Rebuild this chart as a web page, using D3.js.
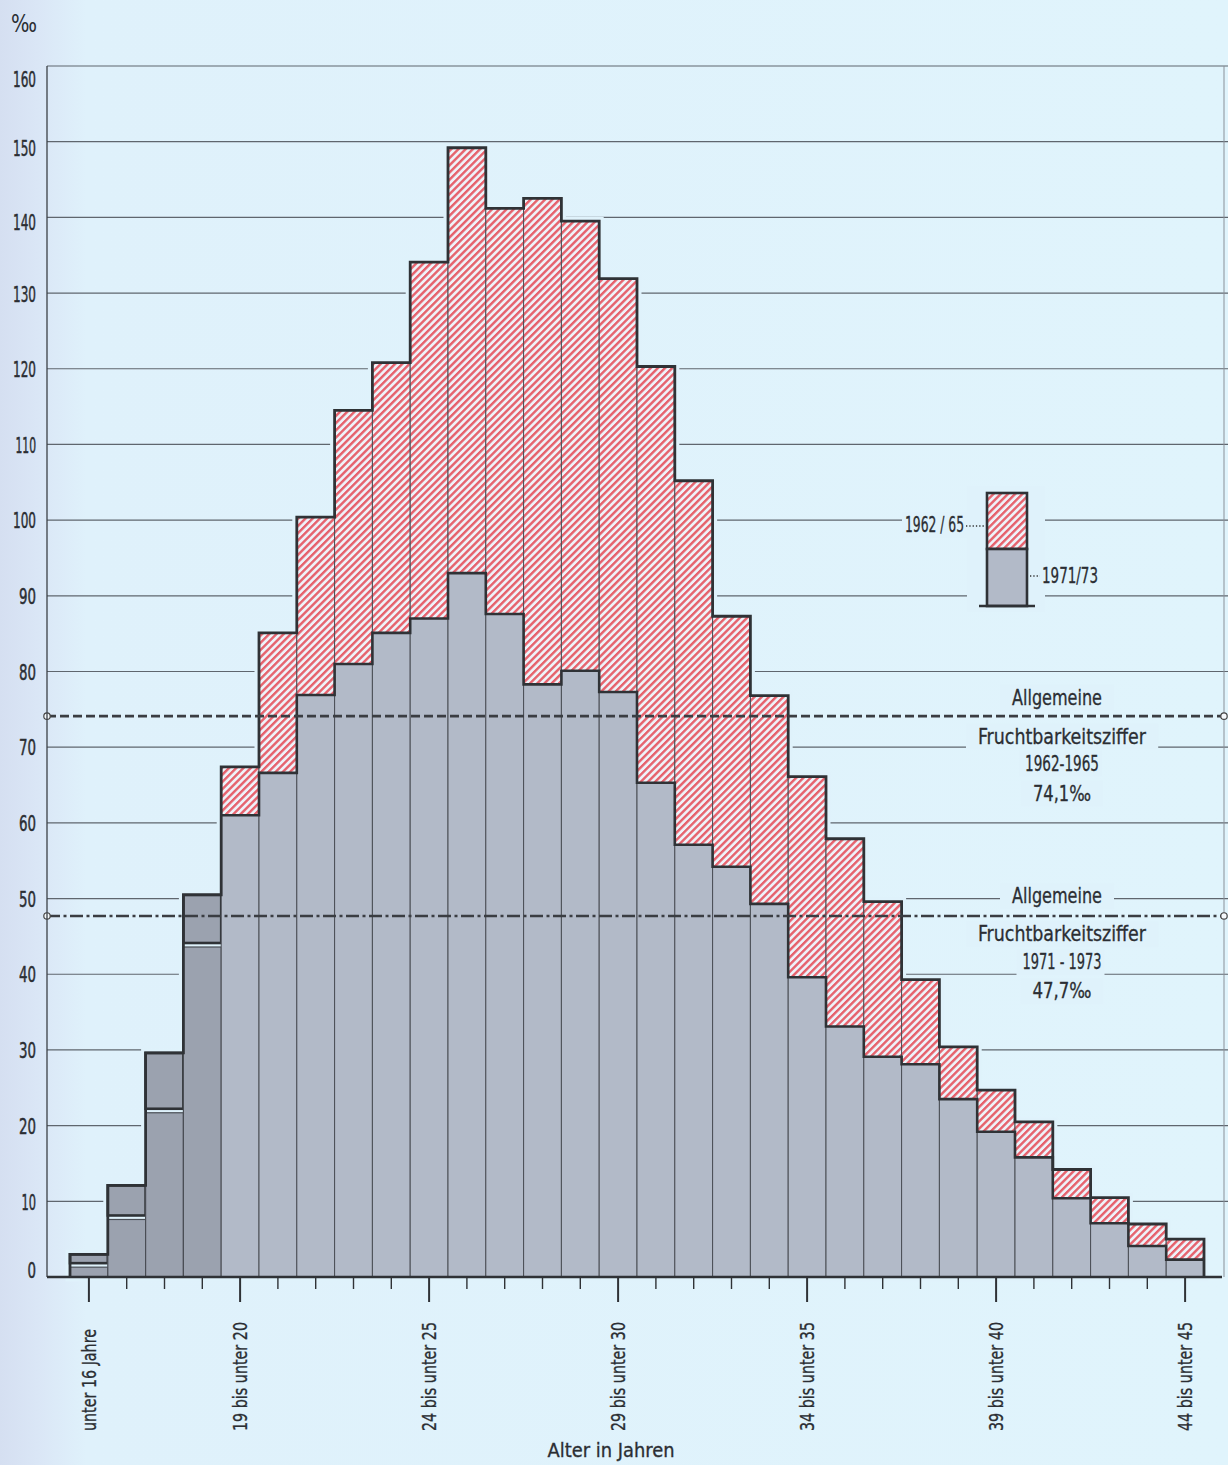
<!DOCTYPE html>
<html><head><meta charset="utf-8">
<script src="https://cdn.jsdelivr.net/npm/d3@7"></script>
<style>body{margin:0;background:#dff2fb} svg{display:block}</style>
</head><body>
<svg id="c" width="1228" height="1465"></svg>
<script>
// ---------- DATA ----------
const categories = ["unter 16 Jahre","16 bis unter 17","17 bis unter 18","18 bis unter 19","19 bis unter 20",
  "20 bis unter 21","21 bis unter 22","22 bis unter 23","23 bis unter 24","24 bis unter 25",
  "25 bis unter 26","26 bis unter 27","27 bis unter 28","28 bis unter 29","29 bis unter 30",
  "30 bis unter 31","31 bis unter 32","32 bis unter 33","33 bis unter 34","34 bis unter 35",
  "35 bis unter 36","36 bis unter 37","37 bis unter 38","38 bis unter 39","39 bis unter 40",
  "40 bis unter 41","41 bis unter 42","42 bis unter 43","43 bis unter 44","44 bis unter 45"];
const rate1962_65 = [1.3, 7.6, 21.7, 43.6, 67.4, 85.1, 100.4, 114.5, 120.8, 134.1,
  149.2, 141.2, 142.5, 139.5, 131.9, 120.3, 105.2, 87.3, 76.8, 66.1,
  57.9, 49.6, 39.3, 30.4, 24.7, 20.5, 14.2, 10.5, 7.0, 5.0];
const rate1971_73 = [3.0, 12.1, 29.6, 50.5, 61.0, 66.6, 76.9, 81.0, 85.1, 87.0,
  93.0, 87.6, 78.3, 80.1, 77.3, 65.3, 57.1, 54.2, 49.3, 39.6,
  33.1, 29.1, 28.1, 23.5, 19.2, 15.8, 10.4, 7.1, 4.1, 2.3];
const yTicks = [0,10,20,30,40,50,60,70,80,90,100,110,120,130,140,150,160];
const xTickLabels = ["unter 16 Jahre","19 bis unter 20","24 bis unter 25","29 bis unter 30",
  "34 bis unter 35","39 bis unter 40","44 bis unter 45"];
const avgValues = [74.1, 47.7];
const avgPeriods = ["1962-1965", "1971 - 1973"];
const avgTexts = ["74,1‰", "47,7‰"];
const legendLabels = ["1962 / 65", "1971/73"];

// ---------- SETUP ----------
const W = 1228, H = 1465;
const FONT = "'Liberation Sans Narrow','DejaVu Sans Condensed','Roboto Condensed','Liberation Sans',sans-serif";
const BG = "#dff2fb", INK = "#2f3236", THIN = "#4a4e55", TXT = "#2b2e33";
const GRAY = "#b2bac8", DARKGRAY = "#9ba2af";
const svg = d3.select("#c");
const defs = svg.append("defs");
const g0 = defs.append("linearGradient").attr("id","bg").attr("x1",0).attr("x2",1).attr("y1",0).attr("y2",0);
[[0,"#d5dff1"],[0.03,"#dae6f6"],[0.07,"#dff1fb"],[1,"#e0f4fc"]].forEach(([o,c])=>g0.append("stop").attr("offset",o).attr("stop-color",c));
svg.append("rect").attr("width",W).attr("height",H).attr("fill","url(#bg)");

const pat = defs.append("pattern").attr("id","hatch").attr("patternUnits","userSpaceOnUse")
  .attr("width",5.1).attr("height",5.1).attr("patternTransform","rotate(45)");
pat.append("rect").attr("width",5.1).attr("height",5.1).attr("fill","#eef2f9");
pat.append("rect").attr("width",2.4).attr("height",5.1).attr("fill","#e6616c");

const y = d3.scaleLinear().domain([0,160]).range([1277,66]);
const x = d3.scaleBand().domain(categories).range([70,1204]).padding(0);
const bw = x.bandwidth();
const X0 = 47, XR = 1224;

// gridlines
svg.append("g").selectAll("line").data(yTicks.filter(t=>t>0)).join("line")
  .attr("x1",X0).attr("x2",W).attr("y1",d=>y(d)).attr("y2",d=>y(d))
  .attr("stroke","#5f666e").attr("stroke-width",1.2);
// right frame line
svg.append("line").attr("x1",XR).attr("x2",XR).attr("y1",y(160)).attr("y2",y(0))
  .attr("stroke","#8a9098").attr("stroke-width",1);

// helper: text with background halo
const annoG = svg.append("g");
function haloText(str, cx, cy, len, size, anchor="middle", padL=10, padR=10){
  const gg = annoG.append("g");
  const r = gg.append("rect").attr("fill",BG);
  const t = gg.append("text").attr("x",cx).attr("y",cy).attr("dy","0.35em")
    .attr("text-anchor",anchor).attr("font-family",FONT).attr("font-size",size)
    .attr("fill",TXT).attr("stroke",TXT).attr("stroke-width",0.3)
    .attr("textLength",len).attr("lengthAdjust","spacingAndGlyphs").text(str);
  const b = t.node().getBBox();
  r.attr("x",b.x-padL).attr("y",b.y-1).attr("width",b.width+padL+padR).attr("height",b.height+2);
  return t;
}

// average-rate annotations
const annoOffsets = [[-19,20,47,77],[-20,18,46,75]];
const annoLens = [[90,168,74,58],[90,168,79,59]];
avgValues.forEach((v,k)=>{
  const ly = y(v), cx = 1062;
  const lines = ["Allgemeine","Fruchtbarkeitsziffer",avgPeriods[k],avgTexts[k]];
  lines.forEach((s,j)=>haloText(s, cx + (j===0?-5:0), ly+annoOffsets[k][j], annoLens[k][j], 21, "middle", j===2?6:12, j===2?3:12));
});

// legend (layout)
const lg = svg.append("g");
lg.append("rect").attr("x",967).attr("y",486).attr("width",78).attr("height",126).attr("fill",BG);
haloText(legendLabels[0], 964, 525, 59, 21, "end", 3, 4);
lg.append("line").attr("x1",966).attr("x2",985).attr("y1",526).attr("y2",526)
  .attr("stroke","#333").attr("stroke-width",1.3).attr("stroke-dasharray","1.3,2");
lg.append("rect").attr("x",987).attr("y",493).attr("width",40).attr("height",56)
  .attr("fill","url(#hatch)").attr("stroke",INK).attr("stroke-width",2.6);
lg.append("rect").attr("x",987).attr("y",549).attr("width",40).attr("height",57)
  .attr("fill",GRAY).attr("stroke",INK).attr("stroke-width",2.6);
lg.append("line").attr("x1",979).attr("x2",1035).attr("y1",606).attr("y2",606)
  .attr("stroke",INK).attr("stroke-width",2.6);
lg.append("line").attr("x1",1030).attr("x2",1040).attr("y1",576).attr("y2",576)
  .attr("stroke","#333").attr("stroke-width",1.3).attr("stroke-dasharray","1.3,2");
lg.append("text").attr("x",1042).attr("y",576).attr("dy","0.35em").attr("font-family",FONT)
  .attr("font-size",21).attr("fill",TXT).attr("stroke",TXT).attr("stroke-width",0.3)
  .attr("textLength",56).attr("lengthAdjust","spacingAndGlyphs")
  .text(legendLabels[1]);

// bars
const bars = categories.map((c,i)=>({c,i,a:rate1962_65[i],b:rate1971_73[i]}));
let outer = `M${x(categories[0])},${y(0)}`;
bars.forEach(d=>{ outer += `V${y(Math.max(d.a,d.b))}H${x(d.c)+bw}`; });
outer += `V${y(0)}`;
svg.append("path").attr("d",outer+"Z").attr("fill",BG).attr("stroke",BG).attr("stroke-width",9);

const bg = svg.append("g");
bars.forEach(d=>{
  const x0 = x(d.c);
  if (d.a >= d.b){
    bg.append("rect").attr("x",x0).attr("y",y(d.b)).attr("width",bw).attr("height",y(0)-y(d.b))
      .attr("fill",GRAY).attr("stroke",THIN).attr("stroke-width",1);
    bg.append("rect").attr("x",x0).attr("y",y(d.a)).attr("width",bw).attr("height",y(d.b)-y(d.a))
      .attr("fill","url(#hatch)").attr("stroke",THIN).attr("stroke-width",1);
  } else {
    bg.append("rect").attr("x",x0).attr("y",y(d.a)).attr("width",bw).attr("height",y(0)-y(d.a))
      .attr("fill",DARKGRAY).attr("stroke",THIN).attr("stroke-width",1.2);
    bg.append("rect").attr("x",x0).attr("y",y(d.b)).attr("width",bw).attr("height",Math.max(0,y(d.a)-4-y(d.b)))
      .attr("fill",DARKGRAY).attr("stroke",INK).attr("stroke-width",2.6);
  }
});
// gray top profile where hatched is above
const hb = bars.filter(d=>d.a>=d.b);
let gp = "";
hb.forEach((d,k)=>{ gp += (k===0?`M${x(d.c)},${y(d.b)}`:`V${y(d.b)}`) + `H${x(d.c)+bw}`; });
svg.append("path").attr("d",gp).attr("fill","none").attr("stroke",INK).attr("stroke-width",2.6);
svg.append("path").attr("d",outer).attr("fill","none").attr("stroke",INK).attr("stroke-width",2.8);

// average lines
const dashes = ["9,4","13,3.5,3,3.5"];
avgValues.forEach((v,k)=>{
  svg.append("line").attr("x1",X0).attr("x2",XR).attr("y1",y(v)).attr("y2",y(v))
    .attr("stroke","#3a3d42").attr("stroke-width",2.6).attr("stroke-dasharray",dashes[k]);
  [X0,XR].forEach(cx=>svg.append("circle").attr("cx",cx).attr("cy",y(v)).attr("r",3.2)
    .attr("fill","#f4f8fb").attr("stroke","#444").attr("stroke-width",1.2));
});

// y axis
svg.append("line").attr("x1",X0).attr("x2",X0).attr("y1",y(160)).attr("y2",y(0))
  .attr("stroke","#3c4046").attr("stroke-width",1.3);
const yOff = {160:13,150:6,140:4,130:1,0:-7};
const yAx = svg.append("g").attr("transform",`translate(${X0},0)`)
  .call(d3.axisLeft(y).tickValues(yTicks).tickSize(0).tickPadding(11).tickFormat(d3.format("d")));
yAx.select(".domain").remove();
yAx.selectAll("text").attr("font-family",FONT).attr("font-size",22).attr("fill",TXT)
  .attr("stroke",TXT).attr("stroke-width",0.5)
  .attr("transform",d=>`translate(0,${yOff[d]||0})`).attr("dy","0.35em")
  .attr("textLength",d=>String(d).split("").reduce((s,ch)=>s+(ch==="1"?6:8.5),0))
  .attr("lengthAdjust","spacingAndGlyphs");

// x axis
const xAx = svg.append("g").attr("transform",`translate(0,${y(0)})`)
  .call(d3.axisBottom(x).tickSize(12).tickFormat(""));
xAx.select(".domain").remove();
xAx.selectAll(".tick line").attr("stroke","#2f3236").attr("stroke-width",1.4);
xAx.selectAll(".tick").filter(d=>xTickLabels.includes(d)).select("line").attr("y2",25).attr("stroke-width",2);
svg.append("line").attr("x1",X0).attr("x2",1222).attr("y1",y(0)).attr("y2",y(0))
  .attr("stroke",INK).attr("stroke-width",2.6);
svg.append("g").selectAll("text").data(xTickLabels).join("text")
  .attr("transform",d=>`translate(${x(d)+bw/2},1431) rotate(-90)`)
  .attr("dy","0.35em").attr("font-family",FONT).attr("font-size",20).attr("fill",TXT)
  .attr("stroke",TXT).attr("stroke-width",0.3)
  .attr("textLength",d=>d.startsWith("unter")?102:109).attr("lengthAdjust","spacingAndGlyphs")
  .text(d=>d);
svg.append("text").attr("x",611).attr("y",1457).attr("text-anchor","middle").attr("font-family",FONT)
  .attr("font-size",20).attr("fill",TXT).attr("stroke",TXT).attr("stroke-width",0.3)
  .attr("textLength",127).attr("lengthAdjust","spacingAndGlyphs")
  .text("Alter in Jahren");
svg.append("text").attr("x",11).attr("y",32).attr("font-family",FONT).attr("font-size",24)
  .attr("fill",TXT).attr("textLength",26).attr("lengthAdjust","spacingAndGlyphs").text("‰");
</script>
</body></html>
